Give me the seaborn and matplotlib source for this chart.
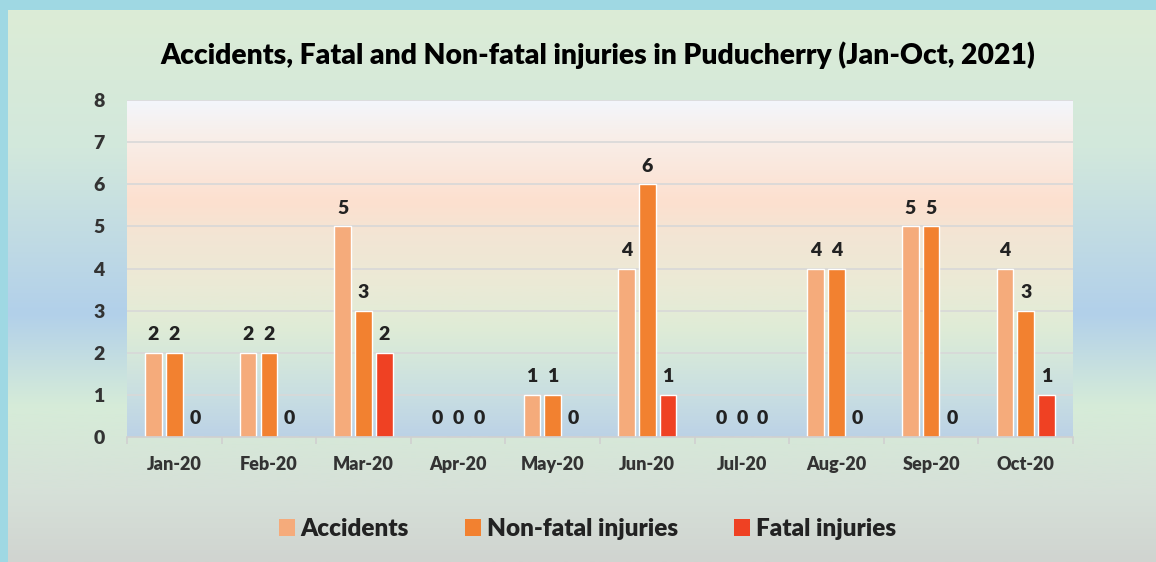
import numpy as np
import pandas as pd
import matplotlib
matplotlib.use("Agg")
import matplotlib.pyplot as plt
from matplotlib.colors import LinearSegmentedColormap
from matplotlib.patches import Patch
import seaborn as sns

months = ["Jan-20", "Feb-20", "Mar-20", "Apr-20", "May-20",
          "Jun-20", "Jul-20", "Aug-20", "Sep-20", "Oct-20"]
accidents = [2, 2, 5, 0, 1, 4, 0, 4, 5, 4]
non_fatal = [2, 2, 3, 0, 1, 6, 0, 4, 5, 3]
fatal = [0, 0, 2, 0, 0, 1, 0, 0, 0, 1]
series = ["Accidents", "Non-fatal injuries", "Fatal injuries"]
colors = ["#f5ab7b", "#f28130", "#ef4123"]
title = "Accidents, Fatal and Non-fatal injuries in Puducherry (Jan-Oct, 2021)"

df = pd.DataFrame({
    "Month": months * 3,
    "Series": [series[0]] * 10 + [series[1]] * 10 + [series[2]] * 10,
    "Value": accidents + non_fatal + fatal,
})

sns.set_theme(style="white")
plt.rcParams["font.family"] = ["Lato", "DejaVu Sans"]
plt.rcParams["font.weight"] = "heavy"
FW = "heavy"

W, H = 1156, 562
fig = plt.figure(figsize=(W / 100, H / 100), dpi=100)
fig.patch.set_facecolor("#9fd8e3")

# background panel with vertical gradient
bg = fig.add_axes([8 / W, 0, 1 - 8 / W, 1 - 10 / H], zorder=-10)
bg_cmap = LinearSegmentedColormap.from_list("bg", [
    (0.0, "#dcecd6"), (0.25, "#d2e8dc"), (0.55, "#b2d0ea"),
    (0.72, "#d6ecd8"), (0.88, "#d6e0d8"), (1.0, "#d0d4d0")])
bg.imshow(np.linspace(0, 1, 256).reshape(-1, 1), aspect="auto", cmap=bg_cmap,
          extent=[0, 1, 0, 1], origin="upper")
bg.set_axis_off()

ax = fig.add_axes([127 / W, 1 - 437 / H, (1073 - 127) / W, (437 - 100) / H])
ax.set_facecolor("none")

# plot area gradient
pa_cmap = LinearSegmentedColormap.from_list("pa", [
    (0.0, "#bcd2e6"), (0.12, "#c8dee2"), (0.25, "#d6e8da"), (0.33, "#e0ecd6"),
    (0.45, "#ebead6"), (0.6, "#f3e5d4"), (0.7, "#fde0cf"), (0.78, "#fbe6da"),
    (0.9, "#f8efea"), (1.0, "#f3f6fc")])
ax.imshow(np.linspace(0, 1, 256).reshape(-1, 1), aspect="auto", cmap=pa_cmap,
          extent=[-0.5, 9.5, 0, 8], origin="lower", zorder=0)

sns.barplot(data=df, x="Month", y="Value", hue="Series", palette=colors,
            order=months, hue_order=series, width=0.66, gap=0.2,
            ax=ax, legend=False, zorder=3, saturation=1)

for cont in ax.containers:
    for bar in cont:
        h = bar.get_height()
        ax.annotate(f"{int(h)}", (bar.get_x() + bar.get_width() / 2, h),
                    xytext=(0, 7), textcoords="offset points",
                    ha="center", va="bottom", fontsize=14,
                    fontweight=FW, color="#222222", zorder=5)

ax.set_xlim(-0.5, 9.5)
ax.set_ylim(0, 8)
ax.set_yticks(range(0, 9))
for y in range(1, 9):
    ax.axhline(y, color="#d8d8d8", lw=1.2, zorder=1)
ax.set_xlabel("")
ax.set_ylabel("")
for s in ["top", "right", "left"]:
    ax.spines[s].set_visible(False)
ax.spines["bottom"].set_color("#d0d0d0")
ax.spines["bottom"].set_linewidth(1.2)
ax.spines["bottom"].set_zorder(4)
ax.set_xticks(np.arange(-0.5, 10, 1), minor=True)
ax.tick_params(axis="x", which="minor", length=5, color="#d0d0d0", width=1.2,
               direction="out", bottom=True)
ax.tick_params(axis="x", which="major", length=0, pad=14, labelsize=13,
               labelcolor="#333333")
ax.tick_params(axis="y", length=0, pad=16, labelsize=14, labelcolor="#333333")
for lbl in ax.get_xticklabels() + ax.get_yticklabels():
    lbl.set_fontweight(FW)

fig.text(0.5175, 1 - 55 / H, title, ha="center", va="center",
         fontsize=20.3, fontweight=FW, color="black")

handles = [Patch(facecolor=c, edgecolor="none") for c in colors]
fig.legend(handles, series, loc="center", bbox_to_anchor=(0.508, 1 - 529 / H),
           ncol=3, frameon=False, prop={"size": 17.5, "weight": FW},
           handlelength=0.65, handleheight=0.65, handletextpad=0.25,
           columnspacing=2.3, labelcolor="#222222")

fig.savefig("out.png", dpi=100, facecolor=fig.get_facecolor())
